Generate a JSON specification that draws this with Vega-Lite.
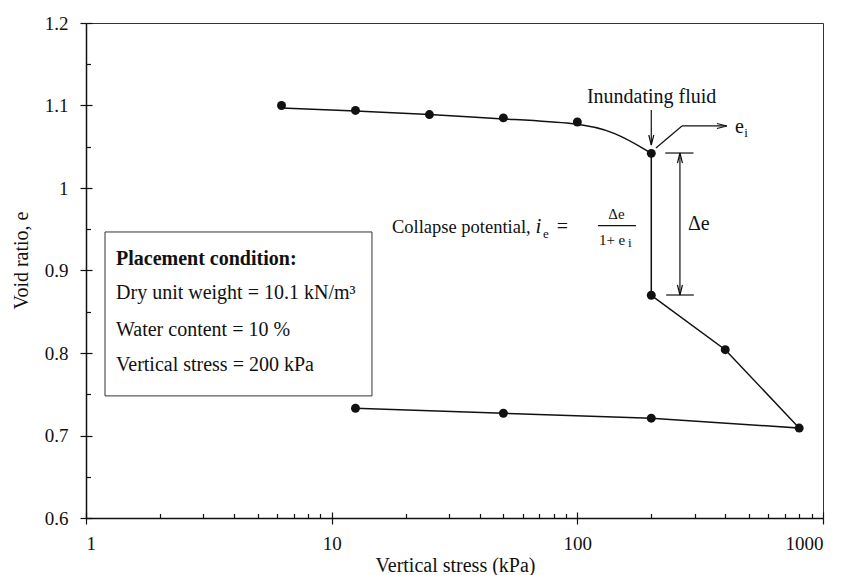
{
  "$schema": "https://vega.github.io/schema/vega-lite/v6.json",
  "width": 737,
  "height": 495,
  "autosize": {"type": "none"},
  "padding": {"left": 86, "top": 23, "right": 33, "bottom": 57},
  "background": "white",
  "config": {
    "view": {"stroke": "#333", "strokeWidth": 1},
    "axis": {"grid": false, "labelFont": "Liberation Serif", "titleFont": "Liberation Serif", "labelColor": "#111", "titleColor": "#111", "tickColor": "#111", "domainColor": "#111", "labelFontSize": 19, "titleFontSize": 20, "titleFontWeight": "normal", "tickWidth": 1.2, "domainWidth": 1.5},
    "text": {"font": "Liberation Serif", "color": "#111"}
  },
  "datasets": {
    "pts": [
      {"s": 6.25, "e": 1.100}, {"s": 12.5, "e": 1.094}, {"s": 25, "e": 1.089}, {"s": 50, "e": 1.085}, {"s": 100, "e": 1.080}, {"s": 200, "e": 1.042},
      {"s": 200, "e": 0.870}, {"s": 400, "e": 0.804}, {"s": 800, "e": 0.709}, {"s": 200, "e": 0.721}, {"s": 50, "e": 0.727}, {"s": 12.5, "e": 0.733}
    ],
    "upper": [
      {"s": 6.25, "e": 1.097}, {"s": 12.5, "e": 1.0935}, {"s": 25, "e": 1.0895}, {"s": 50, "e": 1.0835}, {"s": 100, "e": 1.079}, {"s": 141, "e": 1.069}, {"s": 200, "e": 1.042}
    ],
    "path": [
      {"o": 1, "s": 200, "e": 1.042}, {"o": 2, "s": 200, "e": 0.870}, {"o": 3, "s": 400, "e": 0.804}, {"o": 4, "s": 800, "e": 0.709},
      {"o": 5, "s": 200, "e": 0.721}, {"o": 6, "s": 50, "e": 0.727}, {"o": 7, "s": 12.5, "e": 0.733}
    ],
    "box": [{"x1": 1.195, "x2": 14.59, "y1": 0.9467, "y2": 0.748}],
    "segs": [
      {"x1": 200, "x2": 200, "y1": 1.0945, "y2": 1.0521},
      {"x1": 208.9, "x2": 266.6, "y1": 1.0485, "y2": 1.0752},
      {"x1": 266.6, "x2": 406.3, "y1": 1.0752, "y2": 1.0752},
      {"x1": 228, "x2": 297, "y1": 1.0424, "y2": 1.0424},
      {"x1": 230, "x2": 298, "y1": 0.8703, "y2": 0.8703},
      {"x1": 261.6, "x2": 261.6, "y1": 1.0424, "y2": 0.8703},
      {"x1": 121.3, "x2": 173.2, "y1": 0.9543, "y2": 0.9543}
    ],
    "heads": [
      {"x": 200, "y": 1.0521, "dir": "down"},
      {"x": 406.3, "y": 1.0752, "dir": "right"},
      {"x": 261.6, "y": 1.0424, "dir": "up"},
      {"x": 261.6, "y": 0.8703, "dir": "down"}
    ],
    "txtMain": [
      {"x": 109.4, "y": 1.1027, "t": "Inundating fluid"},
      {"x": 281.9, "y": 0.9491, "t": "Δe"},
      {"x": 437.9, "y": 1.0667, "t": "e"},
      {"x": 82.4, "y": 0.9458, "t": "="},
      {"x": 1.325, "y": 0.8651, "t": "Dry unit weight = 10.1 kN/m³"},
      {"x": 1.325, "y": 0.8210, "t": "Water content = 10 %"},
      {"x": 1.325, "y": 0.7782, "t": "Vertical stress = 200 kPa"}
    ],
    "txtCollapse": [{"x": 17.6, "y": 0.9458, "t": "Collapse potential,"}],
    "txtBold": [{"x": 1.325, "y": 0.9067, "t": "Placement condition:"}],
    "txtItal": [{"x": 67.5, "y": 0.9458, "t": "i"}],
    "txtSmall": [
      {"x": 478, "y": 1.0618, "t": "i"},
      {"x": 72.4, "y": 0.939, "t": "e"},
      {"x": 160.6, "y": 0.9288, "t": "i"}
    ],
    "txtFrac": [
      {"x": 144.3, "y": 0.9624, "t": "Δe"},
      {"x": 138.5, "y": 0.9309, "t": "1+ e"}
    ]
  },
  "resolve": {"axis": {"x": "independent", "y": "independent"}},
  "layer": [
    {
      "data": {"name": "box"},
      "mark": {"type": "rect", "fill": "white", "stroke": "#333", "strokeWidth": 1},
      "encoding": {
        "x": {"field": "x1", "type": "quantitative", "scale": {"type": "log", "domain": [1, 1000], "nice": false},
          "axis": {"orient": "bottom", "values": [1, 10, 100, 1000], "format": "d", "title": "Vertical stress (kPa)", "tickSize": 6, "labelPadding": 10, "titleX": 369, "titleY": 53, "titleBaseline": "alphabetic", "titleAnchor": "middle", "titleAlign": "center"}},
        "x2": {"field": "x2"},
        "y": {"field": "y1", "type": "quantitative", "scale": {"domain": [0.6, 1.2], "nice": false, "zero": false},
          "axis": {"orient": "left", "values": [0.6, 0.7, 0.8, 0.9, 1.0, 1.1, 1.2], "format": "~g", "title": "Void ratio, e", "tickSize": 6, "labelPadding": 12, "titleX": -65, "titleY": 237, "titleAngle": 270, "titleBaseline": "middle", "titleAlign": "center"}},
        "y2": {"field": "y2"}
      }
    },
    {
      "data": {"name": "upper"},
      "mark": {"type": "line", "interpolate": "basis", "color": "#111", "strokeWidth": 1.5},
      "encoding": {
        "x": {"field": "s", "type": "quantitative", "axis": {"orient": "bottom", "values": [1, 10, 100, 1000], "tickSize": -6, "labels": false, "domain": false, "title": null}},
        "y": {"field": "e", "type": "quantitative", "axis": {"orient": "left", "values": [0.6, 0.7, 0.8, 0.9, 1.0, 1.1, 1.2], "tickSize": -6, "labels": false, "domain": false, "title": null}}
      }
    },
    {
      "data": {"name": "path"},
      "mark": {"type": "line", "color": "#111", "strokeWidth": 1.5},
      "encoding": {
        "x": {"field": "s", "type": "quantitative", "axis": {"orient": "bottom", "values": [2, 3, 4, 5, 6, 7, 8, 9, 20, 30, 40, 50, 60, 70, 80, 90, 200, 300, 400, 500, 600, 700, 800, 900], "tickSize": -4.5, "labels": false, "domain": false, "title": null}},
        "y": {"field": "e", "type": "quantitative", "axis": {"orient": "left", "values": [0.65, 0.75, 0.85, 0.95, 1.05, 1.15], "tickSize": -4.5, "labels": false, "domain": false, "title": null}},
        "order": {"field": "o"}
      }
    },
    {
      "data": {"name": "pts"},
      "mark": {"type": "point", "filled": true, "shape": "circle", "size": 80, "color": "#111", "opacity": 1},
      "encoding": {
        "x": {"field": "s", "type": "quantitative", "axis": null},
        "y": {"field": "e", "type": "quantitative", "axis": null}
      }
    },
    {
      "data": {"name": "segs"},
      "mark": {"type": "rule", "color": "#111", "strokeWidth": 1.2},
      "encoding": {
        "x": {"field": "x1", "type": "quantitative", "axis": null},
        "x2": {"field": "x2"},
        "y": {"field": "y1", "type": "quantitative", "axis": null},
        "y2": {"field": "y2"}
      }
    },
    {
      "data": {"name": "heads"},
      "mark": {"type": "point", "filled": false, "size": 400, "strokeWidth": 1.2, "color": "#111", "opacity": 1},
      "encoding": {
        "x": {"field": "x", "type": "quantitative", "axis": null},
        "y": {"field": "y", "type": "quantitative", "axis": null},
        "shape": {"field": "dir", "type": "nominal", "legend": null,
          "scale": {"domain": ["down", "up", "right"], "range": ["M -0.25 -1 L 0 0 L 0.25 -1", "M -0.25 1 L 0 0 L 0.25 1", "M -1 -0.25 L 0 0 L -1 0.25"]}}
      }
    },
    {
      "data": {"name": "txtMain"},
      "mark": {"type": "text", "align": "left", "baseline": "alphabetic", "fontSize": 20},
      "encoding": {
        "x": {"field": "x", "type": "quantitative", "axis": null},
        "y": {"field": "y", "type": "quantitative", "axis": null},
        "text": {"field": "t"}
      }
    },
    {
      "data": {"name": "txtCollapse"},
      "mark": {"type": "text", "align": "left", "baseline": "alphabetic", "fontSize": 18.5},
      "encoding": {
        "x": {"field": "x", "type": "quantitative", "axis": null},
        "y": {"field": "y", "type": "quantitative", "axis": null},
        "text": {"field": "t"}
      }
    },
    {
      "data": {"name": "txtBold"},
      "mark": {"type": "text", "align": "left", "baseline": "alphabetic", "fontSize": 20, "fontWeight": "bold"},
      "encoding": {
        "x": {"field": "x", "type": "quantitative", "axis": null},
        "y": {"field": "y", "type": "quantitative", "axis": null},
        "text": {"field": "t"}
      }
    },
    {
      "data": {"name": "txtItal"},
      "mark": {"type": "text", "align": "left", "baseline": "alphabetic", "fontSize": 21, "fontStyle": "italic"},
      "encoding": {
        "x": {"field": "x", "type": "quantitative", "axis": null},
        "y": {"field": "y", "type": "quantitative", "axis": null},
        "text": {"field": "t"}
      }
    },
    {
      "data": {"name": "txtSmall"},
      "mark": {"type": "text", "align": "left", "baseline": "alphabetic", "fontSize": 13},
      "encoding": {
        "x": {"field": "x", "type": "quantitative", "axis": null},
        "y": {"field": "y", "type": "quantitative", "axis": null},
        "text": {"field": "t"}
      }
    },
    {
      "data": {"name": "txtFrac"},
      "mark": {"type": "text", "align": "center", "baseline": "alphabetic", "fontSize": 15},
      "encoding": {
        "x": {"field": "x", "type": "quantitative", "axis": null},
        "y": {"field": "y", "type": "quantitative", "axis": null},
        "text": {"field": "t"}
      }
    }
  ]
}
